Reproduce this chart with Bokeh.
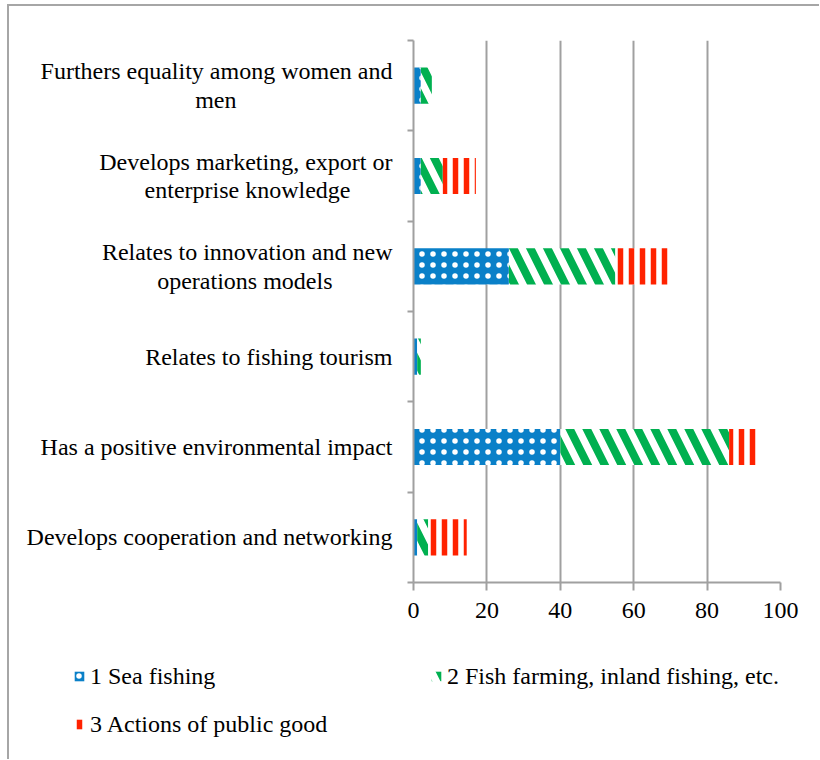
import numpy as np
from bokeh.plotting import figure
from bokeh.layouts import column
from bokeh.models import (Range1d, FactorRange, FixedTicker, CategoricalAxis,
                          LinearAxis, Legend, LegendItem)
from bokeh.embed import file_html
from bokeh.resources import INLINE

# ---------------- data ----------------
categories = [
    "Furthers equality among women and\nmen",
    "Develops marketing, export or\nenterprise knowledge",
    "Relates to innovation and new\noperations models",
    "Relates to fishing tourism",
    "Has a positive environmental impact",
    "Develops cooperation and networking",
]
series_names = [
    "1 Sea fishing",
    "2 Fish farming, inland fishing, etc.",
    "3 Actions of public good",
]
sea_fishing = [2, 2, 26, 1, 40, 1]
fish_farming = [3, 6, 29, 1, 46, 3]
public_good = [0, 9, 15, 0, 8, 10.5]
x_ticks = [0, 20, 40, 60, 80, 100]

# ---------------- style ----------------
FONT = "Liberation Serif"
GREY = "#a0a0a0"
styles = [
    dict(fill_color="#0a80c8", hatch_pattern=".", hatch_color="white", hatch_scale=11, hatch_weight=1),
    dict(fill_color="white", hatch_pattern="\\", hatch_color="#00b050", hatch_scale=34, hatch_weight=8),
    dict(fill_color="white", hatch_pattern="|", hatch_color="#ff2200", hatch_scale=11, hatch_weight=5.5),
]
# trailing no-break spaces that visually centre the second line of wrapped labels
center_pad = [26, 7, 10, 0, 0, 0]
NBSP = "\u00a0"


def display_label(text, pad):
    if "\n" not in text or pad == 0:
        return text
    first, second = text.split("\n", 1)
    return first + "\n" + second + NBSP * pad


labels = [display_label(c, k) for c, k in zip(categories, center_pad)]
n = len(categories)

p = figure(width=810, height=636, output_backend="svg", toolbar_location=None,
           x_range=Range1d(0, 100), y_range=FactorRange(factors=list(reversed(labels))),
           y_axis_location=None,
           min_border_left=404, min_border_right=39, min_border_top=34, min_border_bottom=60)
p.outline_line_color = None
p.background_fill_color = "white"
p.border_fill_color = "white"

series = [np.array(sea_fishing, float), np.array(fish_farming, float), np.array(public_good, float)]
left = np.zeros(n)
for vals, st in zip(series, styles):
    p.hbar(y=labels, left=left.copy(), right=left + vals, height=0.4, line_color=None, **st)
    left = left + vals

# x axis
xa = p.xaxis[0]
xa.ticker = FixedTicker(ticks=x_ticks)
xa.minor_tick_line_color = None
xa.major_tick_in = 0
xa.major_tick_out = 8
xa.axis_line_color = GREY
xa.axis_line_width = 2
xa.major_tick_line_color = GREY
xa.major_tick_line_width = 2
xa.major_label_text_font = FONT
xa.major_label_text_font_size = "24px"
xa.major_label_text_color = "black"
xa.major_label_standoff = 12

# y axis line with ticks at the category boundaries (no labels)
ya = LinearAxis(ticker=FixedTicker(ticks=list(range(n + 1))))
ya.minor_tick_line_color = None
ya.major_tick_in = 0
ya.major_tick_out = 6
ya.axis_line_color = GREY
ya.axis_line_width = 2
ya.major_tick_line_color = GREY
ya.major_tick_line_width = 2
ya.major_label_overrides = {i: "" for i in range(n + 1)}
ya.major_label_standoff = 0
p.add_layout(ya, "left")

# category labels
ca = CategoricalAxis()
ca.axis_line_color = None
ca.major_tick_line_color = None
ca.minor_tick_line_color = None
ca.major_label_standoff = 9
ca.major_label_text_font = FONT
ca.major_label_text_font_size = "24px"
ca.major_label_text_color = "black"
ca.major_label_text_line_height = 1.1
p.add_layout(ca, "left")

p.xgrid.ticker = FixedTicker(ticks=x_ticks)
p.xgrid.grid_line_color = GREY
p.xgrid.grid_line_width = 2
p.ygrid.grid_line_color = None

# legend in its own strip below the chart
lf = figure(width=810, height=117, output_backend="svg", toolbar_location=None,
            x_range=Range1d(0, 1), y_range=Range1d(0, 1),
            x_axis_location=None, y_axis_location=None,
            min_border_left=0, min_border_right=0, min_border_top=0, min_border_bottom=0)
lf.outline_line_color = None
lf.grid.visible = False
lf.background_fill_color = "white"
lf.border_fill_color = "white"
# zero-width carriers for the legend swatches
swatches = [lf.hbar(y=[0.5], left=[0], right=[0], height=0.1, line_color=None, **st) for st in styles]

legend_x = 64
try:
    p.frame_align = False
    lf.frame_align = False
except Exception:
    legend_x = 64 - 404

legend = Legend(items=[LegendItem(label=nm, renderers=[r]) for nm, r in zip(series_names, swatches)],
                location=(legend_x, 21), orientation="horizontal", ncols=2,
                glyph_width=12, glyph_height=12, label_standoff=5,
                label_width=320, label_height=28, spacing=20,
                padding=0, margin=0, border_line_color=None, background_fill_alpha=0,
                label_text_font=FONT, label_text_font_size="24px", label_text_color="black")
lf.add_layout(legend)

layout = column(p, lf, spacing=0,
                styles={"border-top": "2px solid #a6a6a6", "border-left": "2px solid #a6a6a6",
                        "margin-left": "7px", "margin-top": "4px"})

open("out.html", "w").write(file_html(layout, INLINE))
